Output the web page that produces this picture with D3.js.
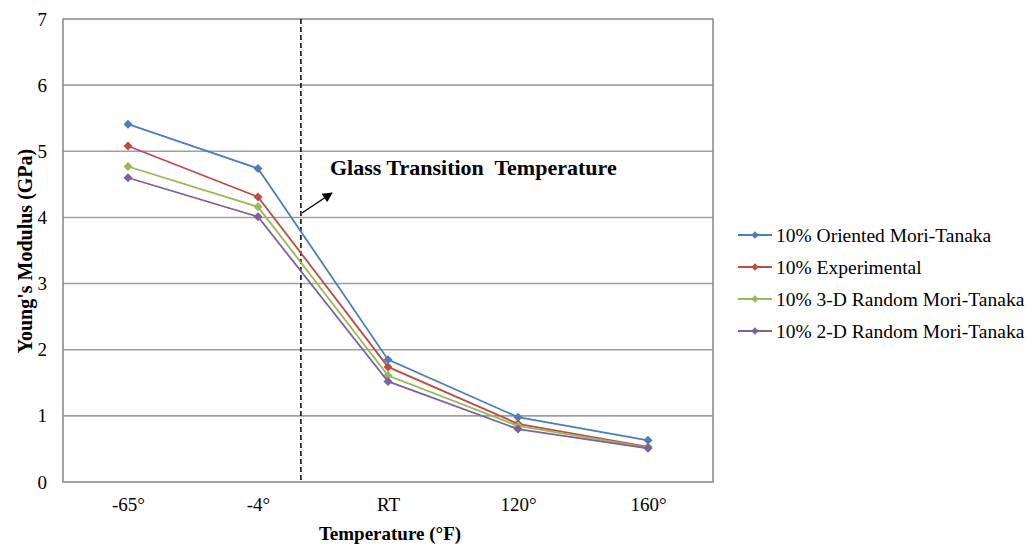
<!DOCTYPE html>
<html>
<head>
<meta charset="utf-8">
<script src="https://cdn.jsdelivr.net/npm/d3@7"></script>
<style>
  html, body { margin: 0; padding: 0; background: #fff; }
  svg { display: block; }
  svg text { font-family: "Liberation Serif", "Times New Roman", serif; fill: #000; }
</style>
</head>
<body>
<svg id="chart" width="1028" height="546"></svg>
<script>
// Temperature categories along the x axis
const categories = ["-65°", "-4°", "RT", "120°", "160°"];

// Young's modulus (GPa) for each model / measurement
const orientedMT   = [5.41, 4.74, 1.85, 0.98, 0.63];
const experimental = [5.08, 4.31, 1.74, 0.88, 0.53];
const random3D     = [4.77, 4.16, 1.61, 0.85, 0.52];
const random2D     = [4.60, 4.01, 1.52, 0.80, 0.51];

const seriesNames  = ["10% Oriented Mori-Tanaka", "10% Experimental",
                      "10% 3-D Random Mori-Tanaka", "10% 2-D Random Mori-Tanaka"];
const seriesColors = ["#4a7ebb", "#be4b48", "#98b954", "#7d60a0"];
const seriesValues = [orientedMT, experimental, random3D, random2D];

const yTicks = [0, 1, 2, 3, 4, 5, 6, 7];

// Glass transition position, in category units between "-4°" and "RT"
const glassTransitionAt = 1.33;

const svg = d3.select("#chart");
const plot = { left: 63, right: 713, top: 19, bottom: 482 };

const x = d3.scalePoint()
  .domain(categories)
  .range([plot.left, plot.right])
  .padding(0.5);
const step = x.step();
const xPos = i => x(categories[0]) + i * step;

const y = d3.scaleLinear()
  .domain([0, 7])
  .range([plot.bottom, plot.top]);

// Square diamond marker
const squareDiamond = {
  draw(ctx, size) {
    const r = Math.sqrt(size / 2);
    ctx.moveTo(0, -r);
    ctx.lineTo(r, 0);
    ctx.lineTo(0, r);
    ctx.lineTo(-r, 0);
    ctx.closePath();
  }
};
const diamond = d3.symbol().type(squareDiamond).size(40);

// Horizontal gridlines
svg.append("g")
  .selectAll("line")
  .data(yTicks.filter(t => t > 0 && t < 7))
  .join("line")
  .attr("x1", plot.left).attr("x2", plot.right)
  .attr("y1", d => y(d)).attr("y2", d => y(d))
  .attr("stroke", "#a0a0a0")
  .attr("stroke-width", 1.6);

// Plot frame
svg.append("rect")
  .attr("x", plot.left).attr("y", plot.top)
  .attr("width", plot.right - plot.left)
  .attr("height", plot.bottom - plot.top)
  .attr("fill", "none")
  .attr("stroke", "#8c8c8c")
  .attr("stroke-width", 1.6);

// Y axis tick labels
const yAxis = d3.axisLeft(y)
  .tickValues(yTicks)
  .tickFormat(d3.format("d"))
  .tickSize(0)
  .tickPadding(16);
const yg = svg.append("g")
  .attr("transform", `translate(${plot.left},0)`)
  .call(yAxis)
  .attr("font-family", null)
  .attr("font-size", 19);
yg.select(".domain").remove();

// X axis tick labels
const xAxis = d3.axisBottom(x).tickSize(0).tickPadding(29);
const xg = svg.append("g")
  .attr("transform", `translate(0,${plot.bottom})`)
  .call(xAxis)
  .attr("font-family", null)
  .attr("font-size", 19);
xg.select(".domain").remove();
xg.selectAll("text").attr("dy", 0);

// Axis titles
svg.append("text")
  .attr("transform", "translate(32,251) rotate(-90)")
  .attr("text-anchor", "middle")
  .attr("font-weight", "bold")
  .attr("font-size", 20)
  .text("Young's Modulus (GPa)");

svg.append("text")
  .attr("x", 390).attr("y", 540)
  .attr("text-anchor", "middle")
  .attr("font-weight", "bold")
  .attr("font-size", 19)
  .text("Temperature (°F)");

// Glass transition marker
const gx = xPos(glassTransitionAt);
svg.append("line")
  .attr("x1", gx).attr("x2", gx)
  .attr("y1", plot.top).attr("y2", plot.bottom)
  .attr("stroke", "#000")
  .attr("stroke-width", 1.5)
  .attr("stroke-dasharray", "5,3");

svg.append("defs").append("marker")
  .attr("id", "arrowhead")
  .attr("viewBox", "0 0 10 10")
  .attr("refX", 9).attr("refY", 5)
  .attr("markerWidth", 11).attr("markerHeight", 10)
  .attr("markerUnits", "userSpaceOnUse")
  .attr("orient", "auto")
  .append("path")
  .attr("d", "M0,0 L10,5 L0,10 z")
  .attr("fill", "#000");

svg.append("line")
  .attr("x1", gx + 1).attr("y1", 213)
  .attr("x2", gx + 31).attr("y2", 193)
  .attr("stroke", "#000")
  .attr("stroke-width", 1.4)
  .attr("marker-end", "url(#arrowhead)");

svg.append("text")
  .attr("x", 330).attr("y", 175)
  .attr("font-weight", "bold")
  .attr("font-size", 22)
  .attr("xml:space", "preserve")
  .text("Glass Transition  Temperature");

// Series lines and diamond markers
const line = d3.line()
  .x((d, i) => x(categories[i]))
  .y(d => y(d));

const sg = svg.append("g")
  .selectAll("g")
  .data(seriesValues)
  .join("g");

sg.append("path")
  .attr("d", d => line(d))
  .attr("fill", "none")
  .attr("stroke", (d, i) => seriesColors[i])
  .attr("stroke-width", 1.8);

sg.each(function (vals, si) {
  d3.select(this).selectAll("path.pt")
    .data(vals)
    .join("path")
    .attr("class", "pt")
    .attr("d", diamond)
    .attr("transform", (d, i) => `translate(${x(categories[i])},${y(d)})`)
    .attr("fill", seriesColors[si]);
});

// Legend
const legend = svg.append("g")
  .selectAll("g")
  .data(seriesNames)
  .join("g")
  .attr("transform", (d, i) => `translate(738,${235 + i * 32})`);

legend.append("line")
  .attr("x1", 0).attr("x2", 34)
  .attr("stroke", (d, i) => seriesColors[i])
  .attr("stroke-width", 1.8);
legend.append("path")
  .attr("d", d3.symbol().type(squareDiamond).size(28))
  .attr("transform", "translate(17,0)")
  .attr("fill", (d, i) => seriesColors[i]);
legend.append("text")
  .attr("x", 38).attr("dy", "0.35em")
  .attr("font-size", 19.5)
  .text(d => d);
</script>
</body>
</html>
